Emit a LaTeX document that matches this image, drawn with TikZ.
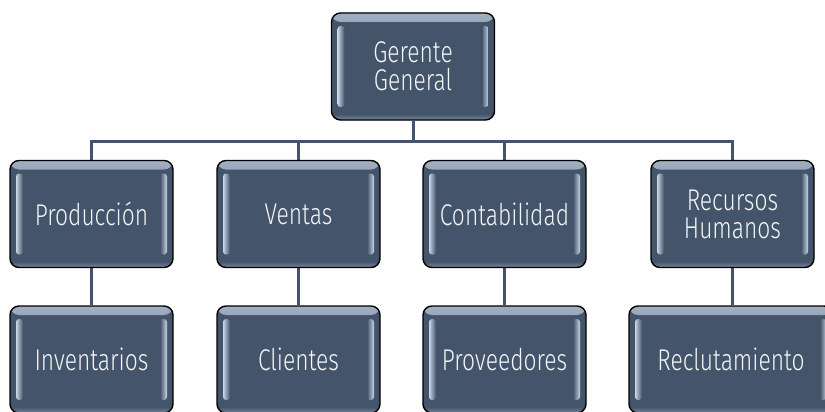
\documentclass[tikz,border=0pt]{standalone}
\usepackage{fontspec}
\setmainfont{Fira Sans}[UprightFont={* Light}]
\usetikzlibrary{backgrounds}
\definecolor{boxfill}{HTML}{44546A}
\definecolor{hl}{HTML}{C8D6E6}
\newcommand\sqz[1]{\scalebox{0.76}[1]{#1}}
\tikzset{
  orgbox/.style={draw=black, line width=1.4pt, rounded corners=9pt, fill=boxfill,
    minimum width=163pt, minimum height=107pt, inner sep=1pt, align=center,
    text=white!94!boxfill, font=\fontsize{30}{28}\selectfont,
    path picture={
      \shade[top color=hl!70!boxfill, bottom color=boxfill]
        (path picture bounding box.north west) rectangle
        ([yshift=-9pt]path picture bounding box.north east);
      \shade[bottom color=boxfill!60!hl, top color=boxfill]
        ([yshift=6pt]path picture bounding box.south west) rectangle
        (path picture bounding box.south east);
      \shade[left color=hl, right color=boxfill, rounded corners=3pt]
        ([xshift=6pt,yshift=-13pt]path picture bounding box.north west) rectangle
        ([xshift=13pt,yshift=13pt]path picture bounding box.south west);
      \shade[right color=hl, left color=boxfill, rounded corners=3pt]
        ([xshift=-6pt,yshift=-13pt]path picture bounding box.north east) rectangle
        ([xshift=-13pt,yshift=13pt]path picture bounding box.south east);
    }},
  conn/.style={draw=boxfill, line width=3pt}
}
\begin{document}
\begin{tikzpicture}[x=1pt,y=-1pt]
\useasboundingbox (0,0) rectangle (825,412);
\clip (0,0) rectangle (825,412);
\node[orgbox] (gg) at (413,66.5) {\sqz{Gerente}\\\sqz{General}};
\node[orgbox] (prod) at (91.5,214) {\sqz{Producción}};
\node[orgbox] (vent) at (298.5,214) {\sqz{Ventas}};
\node[orgbox] (cont) at (504.5,214) {\sqz{Contabilidad}};
\node[orgbox] (rh) at (732.5,214) {\sqz{Recursos}\\\sqz{Humanos}};
\node[orgbox] (inv) at (91.5,359.5) {\sqz{Inventarios}};
\node[orgbox] (cli) at (298.5,359.5) {\sqz{Clientes}};
\node[orgbox] (prov) at (504.5,359.5) {\sqz{Proveedores}};
\node[orgbox, minimum width=204pt] (rec) at (731,359.5) {\sqz{Reclutamiento}};
\coordinate (bar) at (413,141);
\begin{scope}[on background layer]
\draw[conn] (gg.south) -- (bar);
\draw[conn] (prod.north) |- (bar) -| (rh.north);
\draw[conn] (vent.north) -- (vent.north |- bar);
\draw[conn] (cont.north) -- (cont.north |- bar);
\draw[conn] (prod.south) -- (inv.north);
\draw[conn] (vent.south) -- (cli.north);
\draw[conn] (cont.south) -- (prov.north);
\draw[conn] (rh.south) -- (rh.south |- rec.north);
\end{scope}
\end{tikzpicture}
\end{document}
